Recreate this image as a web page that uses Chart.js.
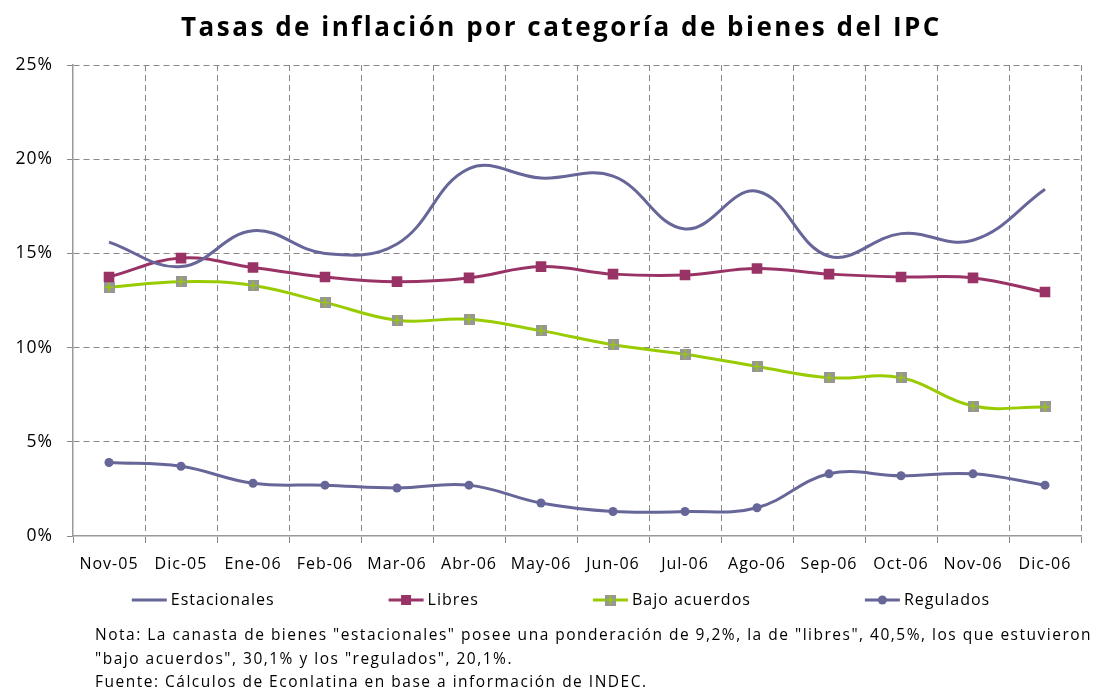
<!DOCTYPE html>
<html>
<head>
<meta charset="utf-8">
<script src="https://cdn.jsdelivr.net/npm/chart.js@4"></script>
<style>
  body { margin: 0; background: #fff; }
  #wrap { position: relative; width: 1093px; height: 688px; font-family: "Open Sans", sans-serif; color: #000; }
  #title { position: absolute; left: 0; width: 1093px; top: 8px; text-align: center; padding-left: 30px; box-sizing: border-box;
           font-size: 26px; font-weight: bold; letter-spacing: 2.5px; }
  #notes { position: absolute; left: 95px; top: 623px; font-size: 15.5px; line-height: 23.5px; letter-spacing: 1.5px; white-space: nowrap; }
  canvas { position: absolute; left: 0; top: 0; }
</style>
</head>
<body>
<div id="wrap">
  <canvas id="ipcChart" width="1093" height="688"></canvas>
  <div id="title">Tasas de inflación por categoría de bienes del IPC</div>
  <div id="notes">Nota: La canasta de bienes "estacionales" posee una ponderación de 9,2%, la de "libres", 40,5%, los que estuvieron<br>"bajo acuerdos", 30,1% y los "regulados", 20,1%.<br>Fuente: Cálculos de Econlatina en base a información de INDEC.</div>
</div>
<script>
// months shown on the x axis
const months = ['Nov-05', 'Dic-05', 'Ene-06', 'Feb-06', 'Mar-06', 'Abr-06', 'May-06',
                'Jun-06', 'Jul-06', 'Ago-06', 'Sep-06', 'Oct-06', 'Nov-06', 'Dic-06'];

// inflation rates, %
const estacionales = [15.6, 14.3, 16.2, 15.0, 15.5, 19.5, 19.0, 19.1, 16.3, 18.3, 14.85, 16.05, 15.7, 18.4];
const libres       = [13.75, 14.75, 14.25, 13.75, 13.5, 13.7, 14.3, 13.9, 13.85, 14.2, 13.9, 13.75, 13.7, 12.95];
const bajoAcuerdos = [13.2, 13.5, 13.3, 12.4, 11.45, 11.5, 10.9, 10.15, 9.65, 9.0, 8.4, 8.4, 6.9, 6.85];
const regulados    = [3.9, 3.7, 2.8, 2.7, 2.55, 2.7, 1.75, 1.3, 1.3, 1.5, 3.3, 3.2, 3.3, 2.7];

const yTicks = [0, 5, 10, 15, 20, 25];

// grey square with a green cross, like the excel marker
function crossSquare() {
    const c = document.createElement('canvas');
    c.width = 11; c.height = 11;
    const g = c.getContext('2d');
    g.fillStyle = '#969696';
    g.fillRect(0, 0, 11, 11);
    g.strokeStyle = '#99CC00';
    g.lineWidth = 1.5;
    g.beginPath();
    g.moveTo(5.5, 1); g.lineTo(5.5, 10);
    g.moveTo(1, 5.5); g.lineTo(10, 5.5);
    g.stroke();
    return c;
}
const bajoMarker = crossSquare();

// legend with line + marker, items packed like excel does
const lineLegend = {
    id: 'lineLegend',
    afterDraw(chart) {
        const ctx = chart.ctx;
        ctx.save();
        ctx.font = '16px "Open Sans"';
        ctx.letterSpacing = '1px';
        ctx.textBaseline = 'middle';
        const sets = chart.data.datasets;
        const lineW = 35, gap = 114, y = 600;
        const widths = sets.map(d => lineW + 4 + ctx.measureText(d.label).width);
        const total = widths.reduce((a, b) => a + b, 0) + gap * (sets.length - 1);
        let x = 561 - total / 2;
        sets.forEach((d, i) => {
            ctx.strokeStyle = d.borderColor;
            ctx.lineWidth = 3;
            ctx.beginPath();
            ctx.moveTo(x, y); ctx.lineTo(x + lineW, y);
            ctx.stroke();
            const mx = x + lineW / 2;
            if (d.pointStyle === 'rect') {
                ctx.fillStyle = d.pointBackgroundColor;
                ctx.fillRect(mx - 5, y - 5, 10, 10);
            } else if (d.pointStyle === 'circle' && d.pointRadius > 0) {
                ctx.fillStyle = d.pointBackgroundColor;
                ctx.beginPath(); ctx.arc(mx, y, 4.5, 0, Math.PI * 2); ctx.fill();
            } else if (d.pointStyle instanceof HTMLCanvasElement) {
                ctx.drawImage(d.pointStyle, mx - 5.5, y - 5.5);
            }
            ctx.fillStyle = '#000';
            ctx.fillText(d.label, x + lineW + 4, y);
            x += widths[i] + gap;
        });
        ctx.restore();
    }
};

const spacing = {
    id: 'spacing',
    beforeDraw(chart) { chart.ctx.letterSpacing = '1px'; }
};

// first grid line sits on the axis itself, leave it to the solid border
const gridColor = c => c.index === 0 ? 'rgba(0,0,0,0)' : '#888';

new Chart(document.getElementById('ipcChart'), {
    type: 'line',
    data: {
        labels: months,
        datasets: [
            { label: 'Estacionales', data: estacionales, borderColor: '#666699', pointRadius: 0, pointStyle: 'circle' },
            { label: 'Libres', data: libres, borderColor: '#993366', pointStyle: 'rect', pointRadius: 7.5,
              pointBackgroundColor: '#993366', pointBorderWidth: 0 },
            { label: 'Bajo acuerdos', data: bajoAcuerdos, borderColor: '#99CC00', pointStyle: bajoMarker,
              pointBackgroundColor: '#969696' },
            { label: 'Regulados', data: regulados, borderColor: '#666699', pointStyle: 'circle', pointRadius: 4.5,
              pointBackgroundColor: '#666699', pointBorderWidth: 0 }
        ]
    },
    options: {
        responsive: false,
        animation: false,
        events: [],
        layout: { padding: { left: 0, right: 12, top: 65, bottom: 112 } },
        elements: { line: { borderWidth: 3, tension: 0.4, cubicInterpolationMode: 'default' } },
        plugins: { legend: { display: false }, title: { display: false }, tooltip: { enabled: false } },
        scales: {
            x: {
                offset: true,
                grid: { offset: true, color: gridColor, tickColor: '#888', tickLength: 7, tickBorderDash: [], lineWidth: 1 },
                border: { color: '#999', dash: [6, 4], width: 1.5 },
                ticks: { color: '#000', font: { family: 'Open Sans', size: 16 }, padding: 12, maxRotation: 0, autoSkip: false },
                afterFit(s) { s.height = 40; }
            },
            y: {
                min: 0, max: 25,
                afterBuildTicks(s) { s.ticks = yTicks.map(v => ({ value: v })); },
                grid: { color: gridColor, tickColor: '#888', tickLength: 6, tickBorderDash: [] },
                border: { color: '#999', dash: [6, 4], width: 1.5 },
                ticks: { color: '#000', font: { family: 'Open Sans', size: 17.5 }, padding: 14, callback: v => v + '%' },
                afterFit(s) { s.width = 73; }
            }
        }
    },
    plugins: [spacing, lineLegend]
});
</script>
</body>
</html>
